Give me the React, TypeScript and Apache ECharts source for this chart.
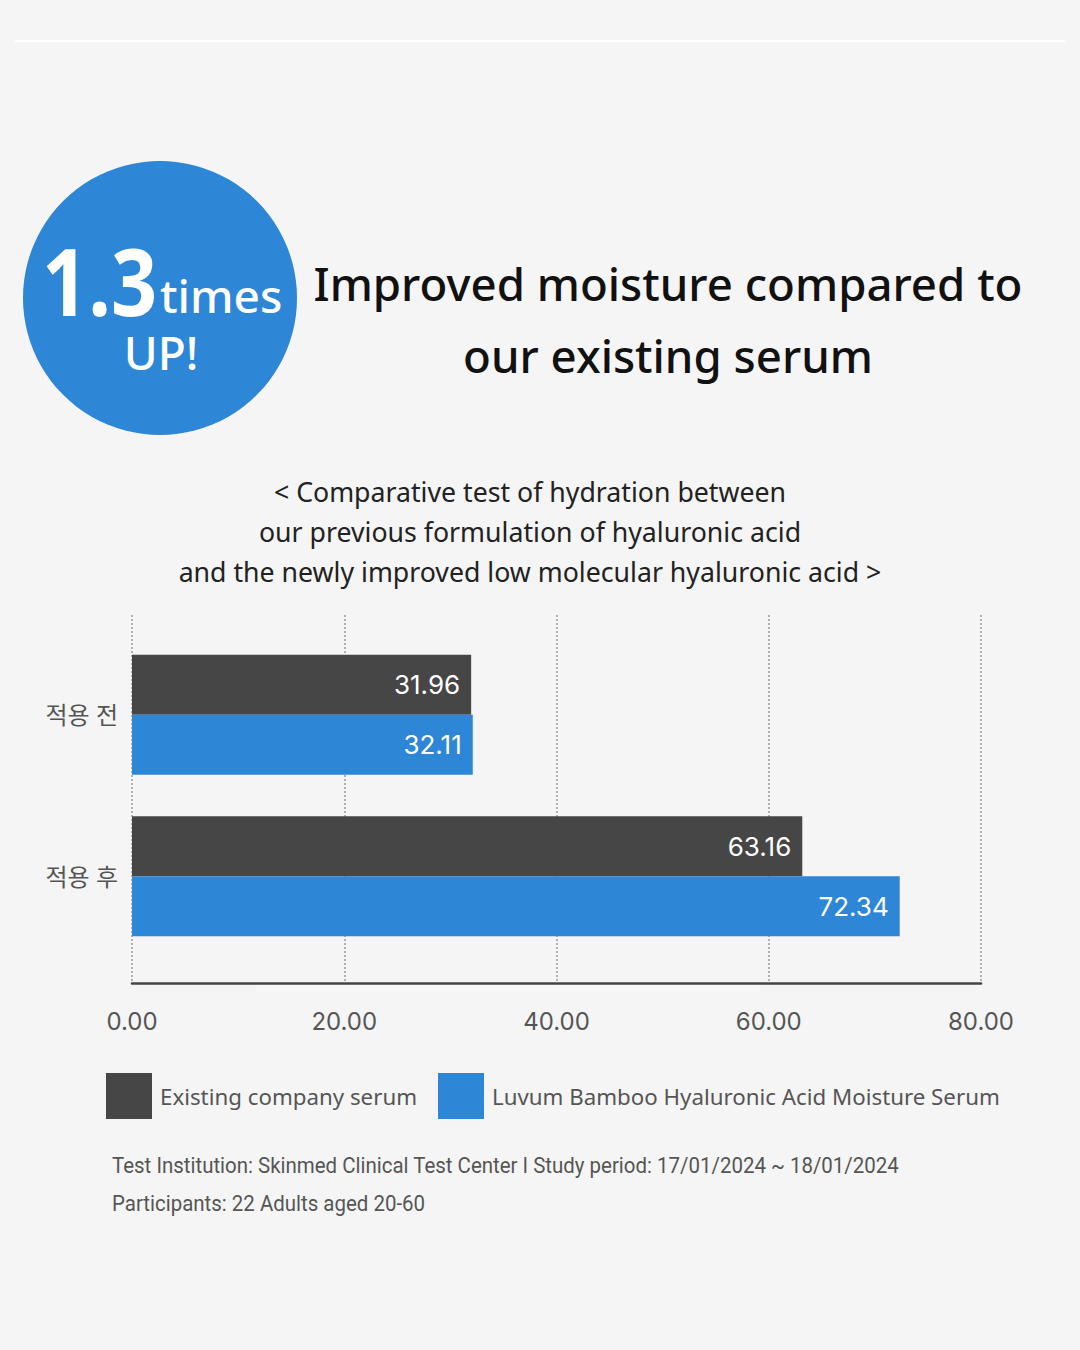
import React, { useEffect, useRef } from "react";
import * as echarts from "echarts";

const categories = ["적용 전", "적용 후"];
const seriesNames = ["Existing company serum", "Luvum Bamboo Hyaluronic Acid Moisture Serum"];
const existingValues = [31.96, 63.16];
const luvumValues = [32.11, 72.34];
const xTicks = { min: 0, max: 80, interval: 20 };

const titleLines = ["Improved moisture compared to", "our existing serum"];
const subtitleLines = [
  "< Comparative test of hydration between",
  "our previous formulation of hyaluronic acid",
  "and the newly improved low molecular hyaluronic acid >",
];
const footnoteLines = [
  "Test Institution: Skinmed Clinical Test Center I Study period: 17/01/2024 ~ 18/01/2024",
  "Participants: 22 Adults aged 20-60",
];

const DARK = "#464646";
const BLUE = "#2d86d6";
const SANS = "'Noto Sans', 'Noto Sans CJK KR', sans-serif";

export default function App() {
  const ref = useRef<HTMLDivElement>(null);
  useEffect(() => {
    if (!ref.current) return;
    const chart = echarts.init(ref.current, undefined, { renderer: "svg" });
    const barLabel = {
      show: true,
      position: "insideRight",
      distance: 11,
      color: "#ffffff",
      fontSize: 26,
      fontFamily: "Inter, Roboto, sans-serif",
      formatter: (p: any) => p.value.toFixed(2),
    };
    chart.setOption({
      animation: false,
      backgroundColor: "#f5f5f5",
      grid: [
        { left: 132, right: 99, top: 615, height: 368 },
        { left: 132, right: 99, top: 634, height: 323 },
      ],
      xAxis: [
        {
          gridIndex: 0,
          type: "value",
          min: xTicks.min,
          max: xTicks.max,
          interval: xTicks.interval,
          axisLine: { show: true, lineStyle: { color: "#444", width: 2.5 } },
          axisTick: { show: false },
          axisLabel: {
            margin: 26,
            fontSize: 24,
            color: "#555",
            fontFamily: "Inter, Roboto, sans-serif",
            formatter: (v: number) => v.toFixed(2),
          },
          splitLine: { show: true, lineStyle: { type: [2, 2], color: "#9a9a9a", width: 1.5 } },
        },
        {
          gridIndex: 1,
          type: "value",
          min: xTicks.min,
          max: xTicks.max,
          show: false,
          splitLine: { show: false },
        },
      ],
      yAxis: [
        { gridIndex: 0, type: "category", data: categories, show: false },
        {
          gridIndex: 1,
          type: "category",
          data: categories,
          inverse: true,
          axisLine: { show: false },
          axisTick: { show: false },
          axisLabel: { margin: 14, fontSize: 24, color: "#555", fontFamily: SANS },
        },
      ],
      legend: {
        left: 106,
        top: 1073,
        padding: 0,
        icon: "rect",
        itemWidth: 46,
        itemHeight: 46,
        itemGap: 21,
        textStyle: { fontSize: 22.3, color: "#555", fontFamily: SANS, padding: [0, 0, 0, 3] },
        data: seriesNames,
      },
      series: [
        {
          name: seriesNames[0],
          type: "bar",
          xAxisIndex: 1,
          yAxisIndex: 1,
          data: existingValues,
          barWidth: 60,
          barGap: "0%",
          itemStyle: { color: DARK },
          label: barLabel,
        },
        {
          name: seriesNames[1],
          type: "bar",
          xAxisIndex: 1,
          yAxisIndex: 1,
          data: luvumValues,
          barWidth: 60,
          barGap: "0%",
          itemStyle: { color: BLUE },
          label: barLabel,
        },
      ],
      graphic: [
        { type: "line", shape: { x1: 15, y1: 41, x2: 1065, y2: 41 }, style: { stroke: "#ffffff", lineWidth: 2 } },
        { type: "circle", shape: { cx: 160, cy: 298, r: 137 }, style: { fill: BLUE } },
        {
          type: "text",
          x: 42,
          y: 280,
          scaleX: 0.86,
          style: {
            text: "1.3",
            fill: "#fff",
            font: `bold 94px ${SANS}`,
            textAlign: "left",
            textVerticalAlign: "middle",
          },
        },
        {
          type: "text",
          x: 160,
          y: 295,
          style: { text: "times", fill: "#fff", font: `500 46px ${SANS}`, textAlign: "left", textVerticalAlign: "middle" },
        },
        {
          type: "text",
          x: 161,
          y: 352,
          style: { text: "UP!", fill: "#fff", font: `500 46px ${SANS}`, textAlign: "center", textVerticalAlign: "middle" },
        },
        {
          type: "text",
          x: 668,
          y: 283,
          style: { text: titleLines[0], fill: "#111", font: `500 45.6px ${SANS}`, textAlign: "center", textVerticalAlign: "middle" },
        },
        {
          type: "text",
          x: 668,
          y: 355,
          style: { text: titleLines[1], fill: "#111", font: `500 45.6px ${SANS}`, textAlign: "center", textVerticalAlign: "middle" },
        },
        ...subtitleLines.map((t, i) => ({
          type: "text",
          x: 530,
          y: 491 + i * 40,
          style: { text: t, fill: "#222", font: `26.7px ${SANS}`, textAlign: "center", textVerticalAlign: "middle" },
        })),
        ...footnoteLines.map((t, i) => ({
          type: "text",
          x: 112,
          y: 1165 + i * 38,
          scaleX: 0.93,
          style: {
            text: t,
            fill: "#555",
            font: `22px Roboto, sans-serif`,
            textAlign: "left",
            textVerticalAlign: "middle",
          },
        })),
      ],
    });
    return () => chart.dispose();
  }, []);
  return (
    <div
      ref={ref}
      style={{ position: "fixed", left: 0, top: 0, width: 1080, height: 1350 }}
    />
  );
}
